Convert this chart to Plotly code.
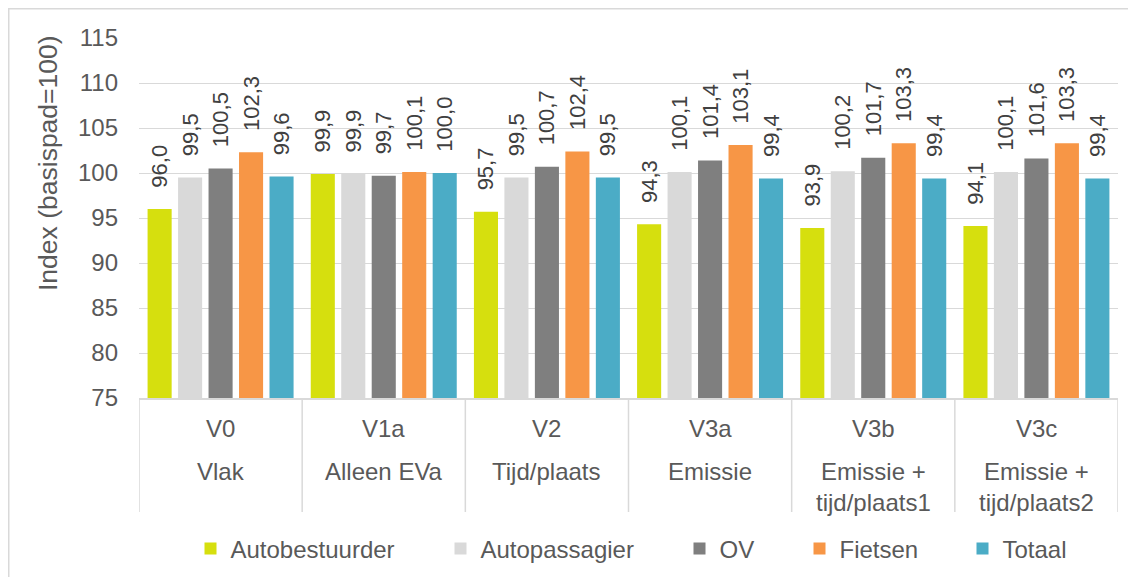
import plotly.graph_objects as go

codes = ["V0", "V1a", "V2", "V3a", "V3b", "V3c"]
names = ["Vlak", "Alleen EVa", "Tijd/plaats", "Emissie", "Emissie +<br>tijd/plaats1", "Emissie +<br>tijd/plaats2"]

series_names = ["Autobestuurder", "Autopassagier", "OV", "Fietsen", "Totaal"]
autobestuurder = [96.0, 99.9, 95.7, 94.3, 93.9, 94.1]
autopassagier = [99.5, 99.9, 99.5, 100.1, 100.2, 100.1]
ov = [100.5, 99.7, 100.7, 101.4, 101.7, 101.6]
fietsen = [102.3, 100.1, 102.4, 103.1, 103.3, 103.3]
totaal = [99.6, 100.0, 99.5, 99.4, 99.4, 99.4]
series_values = [autobestuurder, autopassagier, ov, fietsen, totaal]
colors = ["#D6DF0E", "#D9D9D9", "#7F7F7F", "#F79646", "#4BACC6"]

y_ticks = [75, 80, 85, 90, 95, 100, 105, 110, 115]

# page body margin offset (screen px -> figure px)
OFF = 8
W, H = 1136, 577
L, T = 139 - OFF, 38 - OFF
R = W - (1118 - OFF)
B = H - (398 - OFF)
PW, PH = W - L - R, H - T - B

def sx(px):
    return (px - OFF - L) / PW

def sy(py):
    return (H - B - (py - OFF)) / PH

legend_square_centers = [213.5, 463.5, 702.5, 822.5, 985.5]
FONT = "Liberation Sans, Arial"

fig = go.Figure()
for i, (nm, vals, col) in enumerate(zip(series_names, series_values, colors)):
    lg = "legend" if i == 0 else f"legend{i+1}"
    fig.add_trace(go.Bar(
        x=codes, y=vals, name=nm,
        marker=dict(color=col, line=dict(width=0)),
        texttemplate="\u00a0\u00a0\u00a0%{y:.1f}",
        textposition="outside", textangle=-90,
        outsidetextfont=dict(family=FONT, size=22, color="#404040"),
        constraintext="none", cliponaxis=False,
        legend=lg, hoverinfo="skip",
    ))

legend_y = sy(549)
layout_legends = {}
for i, cx in enumerate(legend_square_centers):
    key = "legend" if i == 0 else f"legend{i+1}"
    layout_legends[key] = dict(
        x=sx(cx - 23), xanchor="left",
        y=legend_y, yanchor="middle",
        orientation="h", bgcolor="rgba(0,0,0,0)", borderwidth=0,
        font=dict(family=FONT, size=24, color="#595959"),
    )

shapes = []
# outer chart border
shapes.append(dict(type="rect", xref="paper", yref="paper",
                   x0=sx(OFF + 0.75), x1=sx(1150),
                   y0=sy(600), y1=sy(OFF + 0.75),
                   line=dict(color="#D9D9D9", width=1.5), fillcolor="rgba(0,0,0,0)", layer="below"))
# category dividers
for k in range(len(codes) + 1):
    shapes.append(dict(type="line", xref="x", yref="paper",
                       x0=k - 0.5, x1=k - 0.5, y0=0, y1=sy(512),
                       line=dict(color="#D9D9D9", width=1.5)))

annotations = []
for c, n in zip(codes, names):
    annotations.append(dict(x=c, xref="x", y=sy(428), yref="paper",
                            text=c, showarrow=False, yanchor="middle",
                            font=dict(family=FONT, size=24, color="#595959")))
    annotations.append(dict(x=c, xref="x", y=sy(456), yref="paper",
                            text=n, showarrow=False, yanchor="top",
                            font=dict(family=FONT, size=24, color="#595959")))
annotations.append(dict(x=sx(48), xref="paper", y=sy(163), yref="paper",
                        text="Index (basispad=100)", textangle=-90, showarrow=False,
                        xanchor="center", yanchor="middle",
                        font=dict(family=FONT, size=26.5, color="#595959")))

fig.update_layout(
    width=W, height=H,
    margin=dict(l=L, r=R, t=T, b=B, pad=0),
    paper_bgcolor="white", plot_bgcolor="white",
    barmode="group", bargap=0.066, bargroupgap=0.21,
    separators=",.",
    showlegend=True,
    shapes=shapes, annotations=annotations,
    xaxis=dict(type="category", showticklabels=False, showgrid=False, zeroline=False,
               showline=True, linecolor="#D9D9D9", linewidth=1.5, ticks="",
               range=[-0.5, 5.5], fixedrange=True),
    yaxis=dict(range=[75, 115], tickvals=y_ticks, showgrid=True, gridcolor="#D9D9D9",
               gridwidth=1.3, zeroline=False, showline=False, ticks="",
               ticklabelstandoff=20,
               tickfont=dict(family=FONT, size=24, color="#595959"),
               fixedrange=True),
    **layout_legends,
)

fig.write_html("out.html")
